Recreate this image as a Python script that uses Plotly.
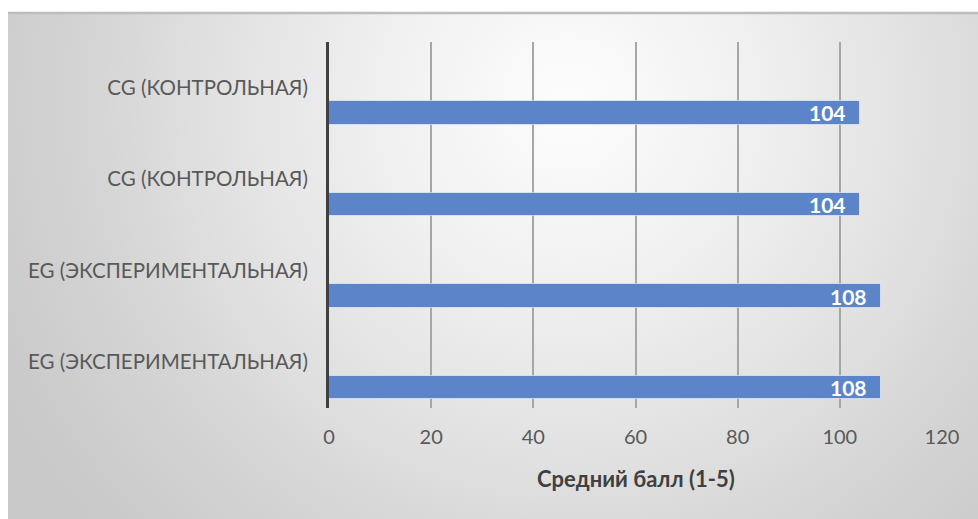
import base64
import plotly.graph_objects as go

# Data
categories = ["CG (КОНТРОЛЬНАЯ)", "CG (КОНТРОЛЬНАЯ)",
              "EG (ЭКСПЕРИМЕНТАЛЬНАЯ)", "EG (ЭКСПЕРИМЕНТАЛЬНАЯ)"]
values = [104, 104, 108, 108]
x_ticks = [0, 20, 40, 60, 80, 100, 120]
axis_title = "Средний балл (1-5)"

W, H = 978, 519
positions = list(range(len(categories)))
bar_offset = 0.276  # bar sits in the lower half of each category slot

# Chart-area background: soft radial grey gradient
area_x0, area_y0, area_w, area_h = 8, 13, 970, 506
svg = f"""<svg xmlns="http://www.w3.org/2000/svg" width="{area_w}" height="{area_h}" viewBox="0 0 {area_w} {area_h}" preserveAspectRatio="none">
<defs><radialGradient id="g" gradientUnits="userSpaceOnUse" cx="560" cy="90" r="630">
<stop offset="0" stop-color="#fdfdfd"/>
<stop offset="0.3" stop-color="#f0f0f0"/>
<stop offset="0.6" stop-color="#dfdfdf"/>
<stop offset="0.75" stop-color="#d5d5d5"/>
<stop offset="1" stop-color="#c9c9c9"/>
</radialGradient></defs>
<rect x="0" y="0" width="{area_w}" height="{area_h}" fill="url(#g)"/>
</svg>"""
bg_src = "data:image/svg+xml;base64," + base64.b64encode(svg.encode()).decode()

fig = go.Figure()
fig.add_trace(go.Bar(
    x=values,
    y=[p + bar_offset for p in positions],
    orientation="h",
    width=0.262,
    marker=dict(color="#5b84c9", line=dict(color="rgba(255,255,255,0.55)", width=1)),
    hoverinfo="x",
))

# Value labels inside the bar ends
for p, v in zip(positions, values):
    fig.add_annotation(
        x=v, y=p + bar_offset, xref="x", yref="y",
        text=f"<b>{v}</b>", showarrow=False,
        xanchor="right", yanchor="middle", xshift=-12,
        font=dict(family="Lato", size=21, color="white"),
    )

px0, px1 = 329, 942
py0, py1 = 42, 408
fig.update_layout(
    width=W, height=H,
    margin=dict(l=0, r=0, t=0, b=0, autoexpand=False),
    paper_bgcolor="white",
    plot_bgcolor="rgba(0,0,0,0)",
    showlegend=False,
    bargap=0,
    xaxis=dict(
        domain=[px0 / W, px1 / W],
        range=[0, 120],
        tickvals=x_ticks,
        ticktext=[str(t) for t in x_ticks],
        showgrid=True, gridcolor="#a6a6a6", gridwidth=1.5,
        zeroline=False, showline=False,
        tickfont=dict(family="Lato", size=20, color="#595959"),
        ticklabelstandoff=15,
        automargin=False,
        fixedrange=True,
    ),
    yaxis=dict(
        domain=[1 - py1 / H, 1 - py0 / H],
        range=[3.5, -0.5],
        tickvals=positions,
        ticktext=categories,
        showgrid=False, zeroline=False,
        showline=True, linecolor="#404040", linewidth=3,
        tickfont=dict(family="Lato", size=20.5, color="#595959"),
        ticklabelstandoff=14,
        automargin=False,
        fixedrange=True,
    ),
    images=[dict(
        source=bg_src, xref="paper", yref="paper",
        x=area_x0 / W, y=1 - area_y0 / H,
        sizex=area_w / W, sizey=area_h / H,
        xanchor="left", yanchor="top",
        sizing="stretch", layer="below",
    )],
    shapes=[dict(
        type="line", xref="paper", yref="paper",
        x0=area_x0 / W, x1=1, y0=1 - area_y0 / H, y1=1 - area_y0 / H,
        line=dict(color="#bdbdbd", width=2.5),
    )],
)

fig.add_annotation(
    x=(px0 + px1) / 2 / W, y=1 - 478 / H, xref="paper", yref="paper",
    text=f"<b>{axis_title}</b>", showarrow=False,
    xanchor="center", yanchor="middle",
    font=dict(family="Lato", size=22, color="#404040"),
)

fig.write_html("out.html")
